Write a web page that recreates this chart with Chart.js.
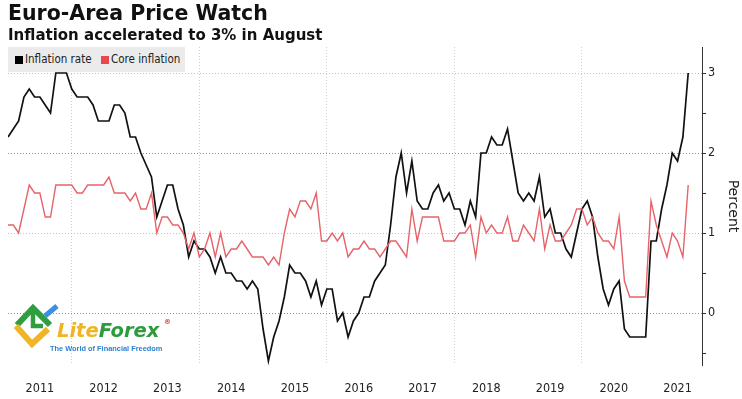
<!DOCTYPE html>
<html>
<head>
<meta charset="utf-8">
<script src="https://cdn.jsdelivr.net/npm/chart.js@4/dist/chart.umd.min.js"></script>
<style>
html,body{margin:0;padding:0;background:#fff;}
#wrap{position:relative;width:742px;height:399px;overflow:hidden;background:#fff;}
#c{position:absolute;left:0;top:0;}
.title{position:absolute;left:8px;top:3px;font:bold 20.5px/1 'DejaVu Sans',sans-serif;color:#111;white-space:nowrap;}
.subtitle{position:absolute;left:8px;top:28px;font:bold 15px/1 'DejaVu Sans',sans-serif;color:#111;white-space:nowrap;}
.legend{position:absolute;left:8px;top:47px;width:177px;height:25px;background:#ebebeb;font:11.5px/25px 'DejaVu Sans Condensed','DejaVu Sans',sans-serif;color:#222;white-space:nowrap;z-index:2;}
.legend .sw{position:absolute;top:9px;width:8px;height:8px;}
.legend .lb{position:absolute;top:0;}
.logo{position:absolute;left:0;top:295px;width:190px;height:65px;z-index:2;}
.logo .brand{position:absolute;left:57px;top:26px;font:italic bold 19.5px/1 'DejaVu Sans',sans-serif;white-space:nowrap;}
.logo .reg{position:absolute;left:164px;top:24px;font:bold 7px/1 'DejaVu Sans',sans-serif;color:#d23a3a;}
.logo .tag{position:absolute;left:50px;top:50px;font:bold 7.4px/1 'Liberation Sans',sans-serif;color:#2f80d0;white-space:nowrap;}
</style>
</head>
<body>
<div id="wrap">
  <canvas id="c" width="742" height="399"></canvas>
  <div class="title">Euro-Area Price Watch</div>
  <div class="subtitle">Inflation accelerated to 3% in August</div>
  <div class="legend">
    <span class="sw" style="left:7px;background:#000;"></span><span class="lb" style="left:17px;">Inflation rate</span>
    <span class="sw" style="left:93px;background:#e8474e;"></span><span class="lb" style="left:103px;">Core inflation</span>
  </div>
  <div class="logo">
    <svg width="60" height="60" style="position:absolute;left:8px;top:4px;" viewBox="0 0 60 60">
      <polyline points="9,26 25,9 42,26" fill="none" stroke="#2f9e3e" stroke-width="6" stroke-linejoin="miter"/>
      <polyline points="25,11 25,27 35,27" fill="none" stroke="#2f9e3e" stroke-width="4.5"/>
      <polyline points="8,27 24,45 40,30" fill="none" stroke="#f0b526" stroke-width="6" stroke-linejoin="miter"/>
      <line x1="37" y1="17" x2="49" y2="7" stroke="#3a8fe0" stroke-width="5"/>
    </svg>
    <div class="brand"><span style="color:#f0b323;">Lite</span><span style="color:#2c9b3c;">Forex</span></div>
    <div class="reg">®</div>
    <div class="tag">The World of Financial Freedom</div>
  </div>
</div>
<script>
// Monthly series, first value = Dec 2010 (plotted at start of 2011), last = Aug 2021
const startYear = 2011;
const inflationRate = [
  2.2,
  2.3, 2.4, 2.7, 2.8, 2.7, 2.7, 2.6, 2.5, 3.0, 3.0, 3.0, 2.8,
  2.7, 2.7, 2.7, 2.6, 2.4, 2.4, 2.4, 2.6, 2.6, 2.5, 2.2, 2.2,
  2.0, 1.85, 1.7, 1.2, 1.4, 1.6, 1.6, 1.3, 1.1, 0.7, 0.9, 0.8,
  0.8, 0.7, 0.5, 0.7, 0.5, 0.5, 0.4, 0.4, 0.3, 0.4, 0.3, -0.2,
  -0.6, -0.3, -0.1, 0.2, 0.6, 0.5, 0.5, 0.4, 0.2, 0.4, 0.1, 0.3,
  0.3, -0.1, 0.0, -0.3, -0.1, 0.0, 0.2, 0.2, 0.4, 0.5, 0.6, 1.1,
  1.7, 2.0, 1.5, 1.9, 1.4, 1.3, 1.3, 1.5, 1.6, 1.4, 1.5, 1.3,
  1.3, 1.1, 1.4, 1.2, 2.0, 2.0, 2.2, 2.1, 2.1, 2.3, 1.9, 1.5,
  1.4, 1.5, 1.4, 1.7, 1.2, 1.3, 1.0, 1.0, 0.8, 0.7, 1.0, 1.3,
  1.4, 1.2, 0.7, 0.3, 0.1, 0.3, 0.4, -0.2, -0.3, -0.3, -0.3, -0.3,
  0.9, 0.9, 1.3, 1.6, 2.0, 1.9, 2.2, 3.0
];
const coreInflation = [
  1.1,
  1.1, 1.0, 1.3, 1.6, 1.5, 1.5, 1.2, 1.2, 1.6, 1.6, 1.6, 1.6,
  1.5, 1.5, 1.6, 1.6, 1.6, 1.6, 1.7, 1.5, 1.5, 1.5, 1.4, 1.5,
  1.3, 1.3, 1.5, 1.0, 1.2, 1.2, 1.1, 1.1, 1.0, 0.8, 1.0, 0.7,
  0.8, 1.0, 0.7, 1.0, 0.7, 0.8, 0.8, 0.9, 0.8, 0.7, 0.7, 0.7,
  0.6, 0.7, 0.6, 1.0, 1.3, 1.2, 1.4, 1.4, 1.3, 1.5, 0.9, 0.9,
  1.0, 0.9, 1.0, 0.7, 0.8, 0.8, 0.9, 0.8, 0.8, 0.7, 0.8, 0.9,
  0.9, 0.8, 0.7, 1.3, 0.9, 1.2, 1.2, 1.2, 1.2, 0.9, 0.9, 0.9,
  1.0, 1.0, 1.1, 0.7, 1.2, 1.0, 1.1, 1.0, 1.0, 1.2, 0.9, 0.9,
  1.1, 1.0, 0.9, 1.3, 0.8, 1.1, 0.9, 0.9, 1.0, 1.1, 1.3, 1.3,
  1.1, 1.2, 1.0, 0.9, 0.9, 0.8, 1.2, 0.4, 0.2, 0.2, 0.2, 0.2,
  1.4, 1.1, 0.9, 0.7, 1.0, 0.9, 0.7, 1.6
];
const yearLabels = ['2011','2012','2013','2014','2015','2016','2017','2018','2019','2020','2021'];
const gridYears = [2012, 2014, 2016, 2018, 2020];
const yTickValues = [-0.5, 0, 0.5, 1, 1.5, 2, 2.5, 3];
const yLabelValues = [0, 1, 2, 3];

const toPoints = arr => arr.map((v, i) => ({x: startYear + i / 12, y: v}));
const xMin = 2011, xMax = 2021.883;

new Chart(document.getElementById('c'), {
  type: 'line',
  data: {
    datasets: [
      {label: 'Core inflation', data: toPoints(coreInflation), borderColor: '#e6636a', borderWidth: 1.4, pointRadius: 0, tension: 0, fill: false},
      {label: 'Inflation rate', data: toPoints(inflationRate), borderColor: '#111111', borderWidth: 1.7, pointRadius: 0, tension: 0, fill: false}
    ]
  },
  options: {
    responsive: false,
    animation: false,
    devicePixelRatio: 1,
    layout: {padding: {left: 8, top: 47, right: 0, bottom: 0}},
    plugins: {legend: {display: false}, tooltip: {enabled: false}, title: {display: false}},
    scales: {
      x: {
        type: 'linear', position: 'bottom', min: xMin, max: xMax,
        afterBuildTicks: axis => { axis.ticks = yearLabels.map(y => ({value: Number(y) + 0.5})); },
        afterFit: axis => { axis.height = 34; },
        ticks: {autoSkip: false, maxRotation: 0, padding: 16, color: '#222',
          font: {family: "'DejaVu Sans Condensed','DejaVu Sans'", size: 12.5},
          callback: v => String(Math.floor(v))},
        grid: {display: false, drawTicks: false},
        border: {display: false}
      },
      x2: {
        type: 'linear', position: 'top', min: xMin, max: xMax,
        afterBuildTicks: axis => { axis.ticks = gridYears.map(y => ({value: y})); },
        afterFit: axis => { axis.height = 0; },
        ticks: {display: false},
        grid: {display: true, drawTicks: false, color: '#cfcfcf', lineWidth: 1},
        border: {display: false, dash: [1, 2]}
      },
      y: {
        type: 'linear', position: 'right', min: -0.65, max: 3.325,
        afterBuildTicks: axis => { axis.ticks = yTickValues.map(v => ({value: v})); },
        afterFit: axis => { axis.width = 40; },
        ticks: {padding: 2, color: '#222', autoSkip: false,
          font: {family: "'DejaVu Sans Condensed','DejaVu Sans'", size: 12.5},
          callback: v => (yLabelValues.includes(v) ? String(v) : '')},
        grid: {
          drawTicks: true, tickLength: 4, tickColor: '#333', tickWidth: 1,
          color: ctx => {
            const v = ctx.tick ? ctx.tick.value : null;
            if (v === 0 || v === 2) return '#8e8e8e';
            if (v === 1 || v === 3) return '#c4c4c4';
            return 'rgba(0,0,0,0)';
          },
          lineWidth: 1
        },
        border: {display: true, color: '#333', width: 1, dash: [1, 2]},
        title: {display: true, text: 'Percent', color: '#222', padding: {top: 1, bottom: 0},
          font: {family: "'DejaVu Sans'", size: 14}}
      }
    }
  }
});
</script>
</body>
</html>
